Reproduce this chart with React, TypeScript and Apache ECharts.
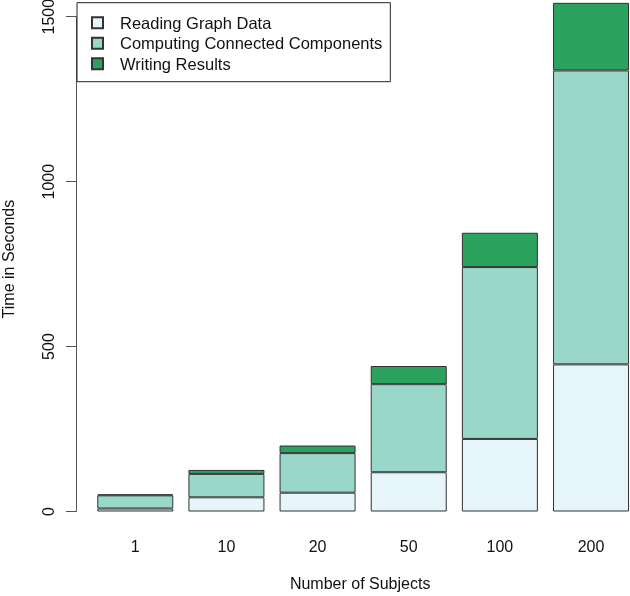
import React, { useEffect, useRef } from "react";
import * as echarts from "echarts";

const categories = ["1", "10", "20", "50", "100", "200"];
const readingGraphData = [9, 43, 57, 119, 220, 446];
const computingComponents = [40, 71, 120, 267, 521, 891];
const writingResults = [3, 12, 23, 55, 104, 205];
const seriesNames = ["Reading Graph Data", "Computing Connected Components", "Writing Results"];
const seriesColors = ["#E5F5F9", "#99D8C9", "#2CA25F"];

const FONT = "'Liberation Sans', Arial, Helvetica, sans-serif";

export default function App() {
  const ref = useRef<HTMLDivElement>(null);
  useEffect(() => {
    if (!ref.current) return;
    const chart = echarts.init(ref.current, undefined, { renderer: "svg" });
    const values = [readingGraphData, computingComponents, writingResults];
    chart.setOption({
      animation: false,
      textStyle: { fontFamily: FONT, color: "#111" },
      grid: {
        left: 89.7,
        right: -6.6,
        top: 16.7,
        bottom: 84.5,
        containLabel: false,
        outerBoundsMode: "none",
      },
      legend: {
        data: seriesNames,
        orient: "vertical",
        left: 77,
        top: 2.7,
        padding: [10, 8, 8, 14],
        itemWidth: 11,
        itemHeight: 11,
        itemGap: 0.5,
        icon: "rect",
        selectedMode: false,
        backgroundColor: "#fff",
        borderColor: "#222",
        borderWidth: 1,
        textStyle: {
          fontFamily: FONT,
          fontSize: 16.5,
          color: "#111",
          lineHeight: 20,
          padding: [0, 0, 0, 12],
        },
      },
      xAxis: {
        type: "category",
        data: categories,
        axisLine: { show: false },
        axisTick: { show: false },
        axisLabel: { fontSize: 16, color: "#111", margin: 27, fontFamily: FONT },
        name: "Number of Subjects",
        nameLocation: "middle",
        nameGap: 64,
        nameTextStyle: { fontSize: 16, color: "#111", fontFamily: FONT, padding: [0, 6, 0, 0] },
      },
      yAxis: {
        type: "value",
        min: 0,
        max: 1500,
        interval: 500,
        offset: 13.7,
        splitLine: { show: false },
        axisLine: { show: true, lineStyle: { color: "#555", width: 1 } },
        axisTick: { show: true, length: 10, lineStyle: { color: "#555" } },
        axisLabel: {
          rotate: 90,
          fontSize: 16,
          color: "#111",
          margin: 20,
          fontFamily: FONT,
          formatter: (v: number) => String(v),
        },
        name: "Time in Seconds",
        nameLocation: "middle",
        nameGap: 60,
        nameRotate: 90,
        nameTextStyle: { fontSize: 16, color: "#111", fontFamily: FONT, padding: [0, 0, 0, 10] },
      },
      series: seriesNames.map((name, i) => ({
        name,
        type: "bar",
        stack: "total",
        data: values[i],
        barWidth: 76,
        clip: false,
        itemStyle: { color: seriesColors[i], borderColor: "#333", borderWidth: 1 },
        emphasis: { disabled: true },
      })),
    });
    return () => chart.dispose();
  }, []);
  return (
    <div
      ref={ref}
      style={{ position: "fixed", left: 0, top: 0, width: 630, height: 596 }}
    />
  );
}
